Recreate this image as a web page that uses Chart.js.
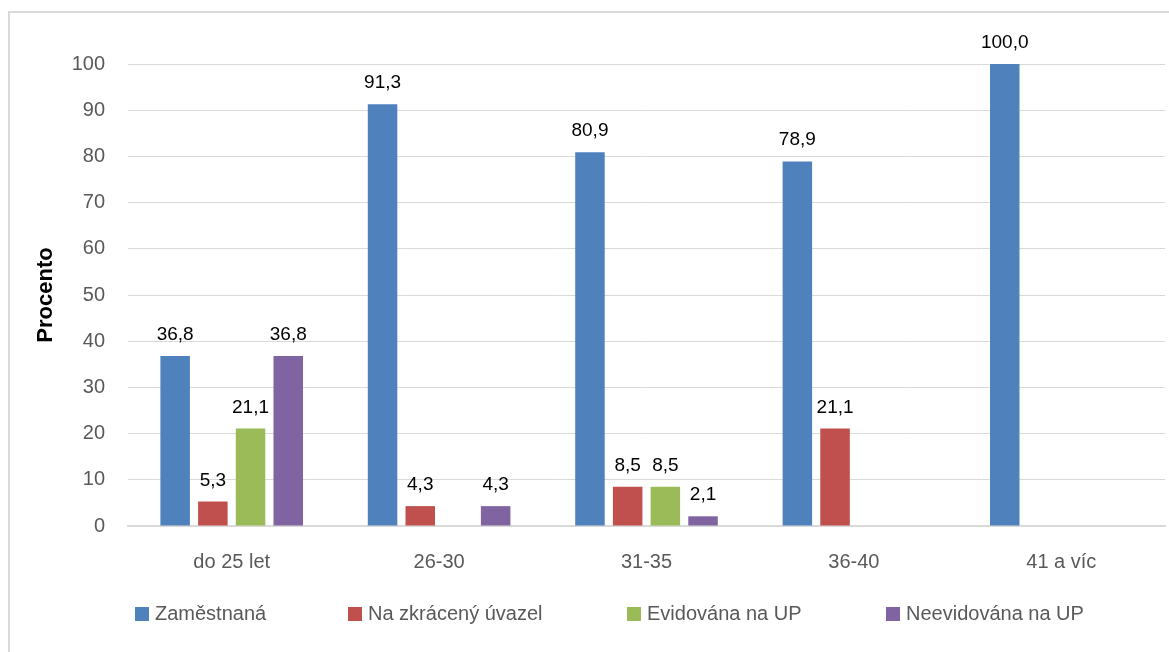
<!DOCTYPE html>
<html>
<head>
<meta charset="utf-8">
<script src="https://cdn.jsdelivr.net/npm/chart.js@4"></script>
<style>
  html, body { margin: 0; padding: 0; background: #fff; overflow: hidden; }
  #wrap { position: relative; width: 1169px; height: 652px; }
  #frame { position: absolute; left: 8px; top: 11px; width: 1300px; height: 800px;
           border-left: 2px solid #d9d9d9; border-top: 2px solid #d9d9d9; box-sizing: border-box; }
  #chart { position: absolute; left: 0; top: 0; }
  #legend { position: absolute; left: 0; top: 600px; width: 1169px; height: 26px;
            font-family: 'Liberation Sans', Arial, sans-serif; font-size: 20px; color: #595959; }
  .item { position: absolute; top: 0; white-space: nowrap; line-height: 26px; }
  .box { display: inline-block; width: 14px; height: 14px; margin-right: 6px; vertical-align: -1px; }
</style>
</head>
<body>
<div id="wrap">
  <div id="frame"></div>
  <canvas id="chart" width="1169" height="652"></canvas>
  <div id="legend"></div>
</div>
<script>
// Categories and series (percent)
const categories = ['do 25 let', '26-30', '31-35', '36-40', '41 a víc'];
const zamestnana = [36.8, 91.3, 80.9, 78.9, 100.0];
const zkraceny = [5.3, 4.3, 8.5, 21.1, null];
const evidovana = [21.1, null, 8.5, null, null];
const neevidovana = [36.8, 4.3, 2.1, null, null];
const yTicks = [0, 10, 20, 30, 40, 50, 60, 70, 80, 90, 100];

const seriesNames = ['Zaměstnaná', 'Na zkrácený úvazel', 'Evidována na UP', 'Neevidována na UP'];
const seriesColors = ['#4f81bd', '#c0504d', '#9bbb59', '#8064a2'];
const legendX = [135, 348, 627, 886];

const FONT = "'Liberation Sans', Arial, sans-serif";

// labels above each bar, Czech decimal comma
const barLabels = {
  id: 'barLabels',
  afterDatasetsDraw(chart) {
    const ctx = chart.ctx;
    ctx.save();
    ctx.font = '19px ' + FONT;
    ctx.fillStyle = '#000';
    ctx.textAlign = 'center';
    ctx.textBaseline = 'alphabetic';
    chart.data.datasets.forEach((ds, i) => {
      chart.getDatasetMeta(i).data.forEach((bar, j) => {
        const v = ds.data[j];
        if (v === null || v === undefined) return;
        ctx.fillText(v.toFixed(1).replace('.', ','), bar.x, bar.y - 16);
      });
    });
    ctx.restore();
  }
};

const datasets = [zamestnana, zkraceny, evidovana, neevidovana].map((d, i) => ({
  label: seriesNames[i],
  data: d,
  backgroundColor: seriesColors[i],
  categoryPercentage: 0.727,
  barPercentage: 0.783
}));

new Chart(document.getElementById('chart'), {
  type: 'bar',
  data: { labels: categories, datasets: datasets },
  options: {
    responsive: false,
    animation: false,
    layout: { padding: { left: 33, right: 4, top: 64, bottom: 0 } },
    plugins: { legend: { display: false }, tooltip: { enabled: false } },
    scales: {
      x: {
        grid: { display: false },
        border: { color: '#d9d9d9', width: 2 },
        ticks: { color: '#595959', font: { family: FONT, size: 20 }, padding: 16 },
        afterFit(scale) { scale.height = 126; }
      },
      y: {
        min: 0,
        max: 100,
        afterBuildTicks(scale) { scale.ticks = yTicks.map(v => ({ value: v })); },
        grid: { color: '#d9d9d9', lineWidth: 1, drawTicks: false },
        border: { display: false },
        ticks: { color: '#595959', font: { family: FONT, size: 20 }, padding: 23 },
        title: { display: true, text: 'Procento', color: '#000', padding: 0,
                 font: { family: FONT, size: 22, weight: 'bold' } },
        afterFit(scale) { scale.width = 95; }
      }
    }
  },
  plugins: [barLabels]
});

// legend below the chart
const legend = document.getElementById('legend');
seriesNames.forEach((name, i) => {
  const item = document.createElement('div');
  item.className = 'item';
  item.style.left = legendX[i] + 'px';
  const box = document.createElement('span');
  box.className = 'box';
  box.style.background = seriesColors[i];
  item.appendChild(box);
  item.appendChild(document.createTextNode(name));
  legend.appendChild(item);
});
</script>
</body>
</html>
